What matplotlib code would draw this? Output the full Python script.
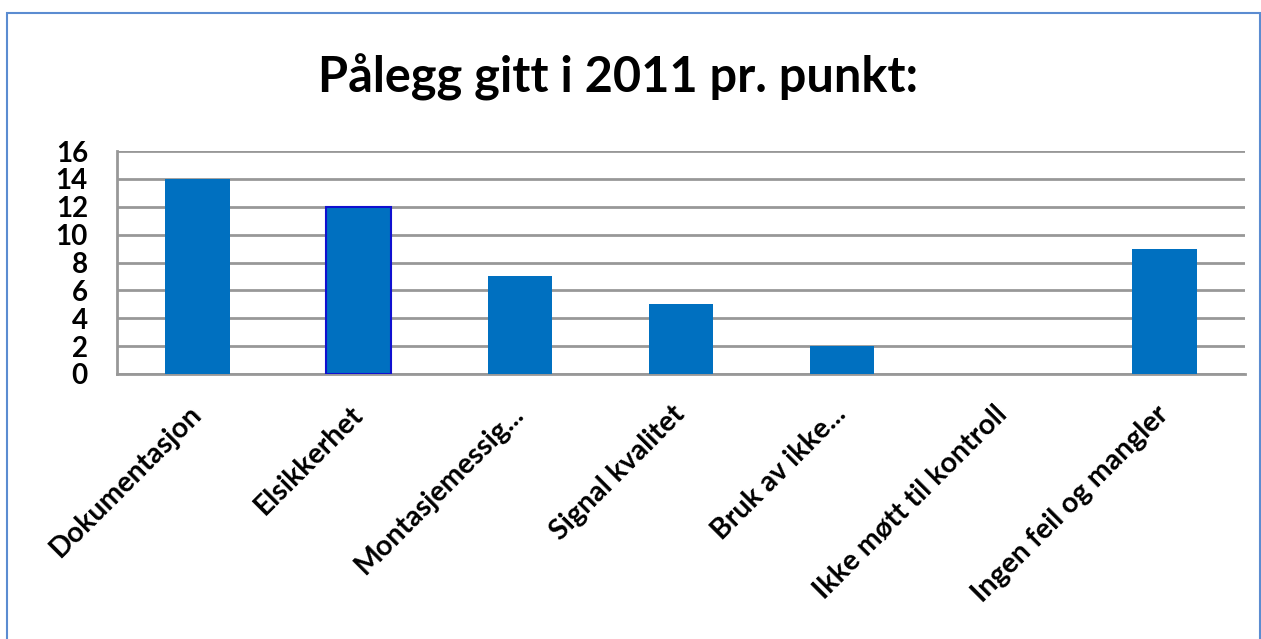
import matplotlib.pyplot as plt
from matplotlib.patches import Rectangle

categories = ["Dokumentasjon", "Elsikkerhet", "Montasjemessig...", "Signal kvalitet",
              "Bruk av ikke...", "Ikke møtt til kontroll", "Ingen feil og mangler"]
values = [14, 12, 7, 5, 2, 0, 9]
yticks = [0, 2, 4, 6, 8, 10, 12, 14, 16]


def main():
    plt.rcParams['font.family'] = ['Lato', 'DejaVu Sans']
    fig = plt.figure(figsize=(12.61, 6.39), dpi=100)

    # outer frame like the original chart box
    fig.patches.append(Rectangle((7 / 1261, -0.05), 1253 / 1261, 1 - 13 / 639 + 0.05,
                                 transform=fig.transFigure, fill=False,
                                 edgecolor='#5B8CD1', linewidth=1.5))

    ax = fig.add_axes([117 / 1261, 1 - 374 / 639, (1245 - 117) / 1261, (374 - 151) / 639])
    x = list(range(len(categories)))
    bars = ax.bar(x, values, width=0.4, color='#0070C0', zorder=3)
    bars[1].set_edgecolor('#1010D0')
    bars[1].set_linewidth(1.5)

    ax.set_xlim(-0.5, len(categories) - 0.5)
    ax.set_ylim(0, 16)
    ax.set_yticks(yticks)
    ax.set_yticklabels([str(v) for v in yticks], fontsize=20, fontweight='bold')
    ax.yaxis.grid(True, color='#989898', linewidth=2)
    ax.set_axisbelow(True)
    ax.tick_params(axis='both', length=0)
    ax.tick_params(axis='y', pad=21)
    ax.tick_params(axis='x', pad=26)

    ax.set_xticks(x)
    ax.set_xticklabels(categories, rotation=45, ha='right', va='center',
                       rotation_mode='anchor', fontsize=20.5, fontweight='bold')

    for side in ['top', 'right']:
        ax.spines[side].set_visible(False)
    for side in ['left', 'bottom']:
        ax.spines[side].set_color('#989898')
        ax.spines[side].set_linewidth(2)

    fig.text(0.490, 1 - 77 / 639, "Pålegg gitt i 2011 pr. punkt:", ha='center', va='center',
             fontsize=35, fontweight='bold')

    fig.savefig('out.png', dpi=100)


if __name__ == '__main__':
    main()
